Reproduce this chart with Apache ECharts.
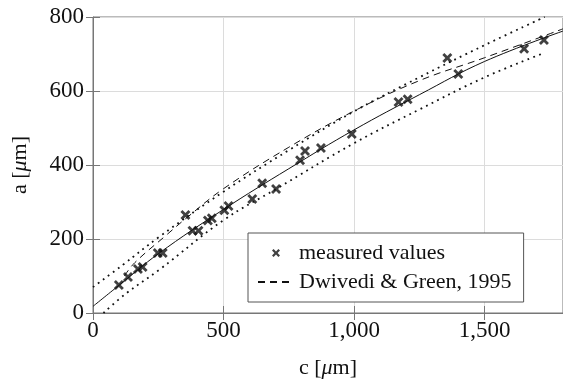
<!DOCTYPE html>
<html>
<head>
<meta charset="utf-8">
<script src="https://cdn.jsdelivr.net/npm/echarts@6/dist/echarts.min.js"></script>
<style>
  html, body { margin: 0; padding: 0; background: #fff; }
  #chart { width: 563px; height: 384px; }
</style>
</head>
<body>
<div id="chart"></div>
<script>
// measured crack sizes
const measC = [99, 134, 172, 190, 248, 267, 354, 381, 404, 440, 455, 503, 519, 610, 648, 701, 793, 812, 873, 991, 1170, 1205, 1357, 1399, 1651, 1727]
const measA = [76, 97, 119, 124, 162, 162, 265, 222, 222, 250, 256, 278, 289, 308, 351, 335, 413, 438, 446, 484, 570, 578, 689, 646, 714, 738]

// fitted curve (solid)
const fitC = [0, 100, 250, 500, 750, 1000, 1250, 1500, 1800]
const fitA = [18, 75, 160, 280, 390, 495, 590, 680, 762]

// Dwivedi & Green, 1995 (dashed)
const dgC = [120, 160, 280, 360, 500, 750, 1000, 1250, 1500, 1800]
const dgA = [100, 136, 210, 258, 336, 448, 546, 628, 690, 768]

// bounds (dotted)
const upC = [0, 114, 254, 500, 750, 1000, 1250, 1500, 1730]
const upA = [70, 130, 206, 328, 440, 545, 637, 724, 800]
const loC = [40, 127, 254, 500, 701, 1000, 1250, 1500, 1725]
const loA = [0, 53, 117, 251, 335, 459, 550, 637, 702]

const font = 'Liberation Serif'
const xPath = 'path://M0,2L2,0L5,3L8,0L10,2L7,5L10,8L8,10L5,7L2,10L0,8L3,5Z'

const zip = (xs, ys) => xs.map((x, i) => [x, ys[i]])

const chart = echarts.init(document.getElementById('chart'), null, { renderer: 'canvas' })

const tickStyle = { show: true, inside: true, length: 7, lineStyle: { color: '#777', width: 1 } }
const dotted = { color: '#111', width: 1.8, type: [1.8, 4.4], cap: 'butt' }

const option = {
  animation: false,
  backgroundColor: '#fff',
  grid: {
    left: 93,
    top: 17,
    width: 472,
    height: 296,
    show: true,
    borderColor: '#777',
    borderWidth: 1
  },
  legend: {
    left: 248,
    top: 233,
    orient: 'vertical',
    width: 303,
    padding: [9, 12, 9, 9],
    itemWidth: 36,
    itemHeight: 8,
    itemGap: 7,
    borderColor: '#555',
    borderWidth: 1,
    backgroundColor: '#fff',
    textStyle: { fontFamily: font, fontSize: 22, color: '#111', lineHeight: 22 },
    data: [
      { name: 'measured values', icon: xPath },
      { name: 'Dwivedi & Green, 1995', itemStyle: { opacity: 0 } }
    ]
  },
  xAxis: [
    {
      type: 'value',
      min: 0,
      max: 1800,
      interval: 500,
      name: 'c [{i|μ}m]',
      nameLocation: 'middle',
      nameGap: 44,
      nameTextStyle: {
        fontFamily: font, fontSize: 22, color: '#111',
        rich: { i: { fontFamily: font, fontSize: 22, fontStyle: 'italic', color: '#111' } }
      },
      axisLine: { show: true, lineStyle: { color: '#111', width: 1 } },
      axisTick: tickStyle,
      axisLabel: {
        fontFamily: font, fontSize: 23, color: '#111', margin: 6,
        showMaxLabel: false,
        formatter: (v) => v.toLocaleString('en-US')
      },
      splitLine: { show: true, lineStyle: { color: '#dcdcdc', width: 1 } }
    },
    {
      type: 'value',
      position: 'top',
      min: 0,
      max: 1800,
      interval: 500,
      axisLine: { show: true, lineStyle: { color: '#777' } },
      axisTick: tickStyle,
      axisLabel: { show: false },
      splitLine: { show: false }
    }
  ],
  yAxis: [
    {
      type: 'value',
      min: 0,
      max: 800,
      interval: 200,
      name: 'a [{i|μ}m]',
      nameLocation: 'middle',
      nameGap: 62,
      nameTextStyle: {
        fontFamily: font, fontSize: 22, color: '#111',
        rich: { i: { fontFamily: font, fontSize: 22, fontStyle: 'italic', color: '#111' } }
      },
      axisLine: { show: true, lineStyle: { color: '#777', width: 1 } },
      axisTick: tickStyle,
      axisLabel: { fontFamily: font, fontSize: 23, color: '#111', margin: 9 },
      splitLine: { show: true, lineStyle: { color: '#dcdcdc', width: 1 } }
    },
    {
      type: 'value',
      position: 'right',
      min: 0,
      max: 800,
      interval: 200,
      axisLine: { show: false },
      axisTick: tickStyle,
      axisLabel: { show: false },
      splitLine: { show: false }
    }
  ],
  series: [
    {
      name: 'upper',
      type: 'line',
      smooth: 0.4,
      showSymbol: false,
      symbol: 'none',
      data: zip(upC, upA),
      lineStyle: dotted,
      z: 2
    },
    {
      name: 'lower',
      type: 'line',
      smooth: 0.4,
      showSymbol: false,
      symbol: 'none',
      data: zip(loC, loA),
      lineStyle: dotted,
      z: 2
    },
    {
      name: 'fit',
      type: 'line',
      smooth: 0.4,
      showSymbol: false,
      symbol: 'none',
      data: zip(fitC, fitA),
      lineStyle: { color: '#111', width: 1 },
      z: 2
    },
    {
      name: 'Dwivedi & Green, 1995',
      type: 'line',
      smooth: 0.4,
      showSymbol: false,
      symbol: 'none',
      data: zip(dgC, dgA),
      lineStyle: { color: '#111', width: 1, type: [7, 5] },
      itemStyle: { color: '#111' },
      z: 2
    },
    {
      name: 'measured values',
      type: 'scatter',
      symbol: xPath,
      symbolSize: 10,
      data: zip(measC, measA),
      itemStyle: { color: '#111' },
      z: 3
    }
  ]
}

chart.setOption(option)
</script>
</body>
</html>
